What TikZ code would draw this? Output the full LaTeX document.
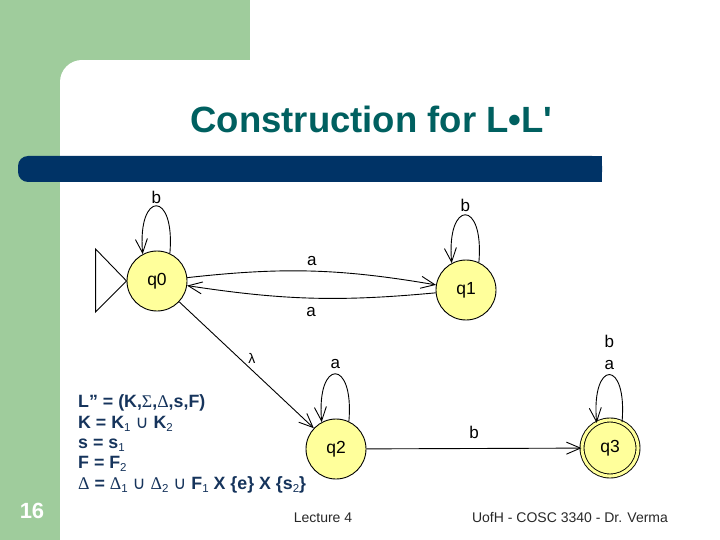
\documentclass[tikz,border=0pt]{standalone}
\usepackage{fontspec}
\setmainfont{Liberation Sans}[Ligatures=TeXOff]
\newfontfamily\dvsfont{DejaVu Sans}
\newfontfamily\lserif{Liberation Serif}
\usetikzlibrary{arrows.meta}
\definecolor{slgreen}{RGB}{159,204,156}
\definecolor{barblue}{RGB}{0,51,102}
\definecolor{titleteal}{RGB}{0,96,96}
\definecolor{txtblue}{RGB}{22,52,92}
\definecolor{stfill}{RGB}{255,255,155}
\definecolor{foot}{RGB}{40,40,40}
\newcommand{\sbs}[1]{\raisebox{-3pt}{\fontsize{11.5}{11.5}\selectfont\mdseries #1}}
\newcommand{\gk}[1]{{\lserif\mdseries #1}}
\newcommand{\uni}{{\dvsfont\mdseries ∪}}
\begin{document}
\begin{tikzpicture}[x=1pt,y=-1pt,
  state/.style={circle, draw=black, line width=0.9pt, fill=stfill, minimum size=60pt, inner sep=0pt, font=\fontsize{17.5}{19}\selectfont},
  trans/.style={line width=0.9pt, -{Straight Barb[length=14pt,width=12pt]}},
  lbl/.style={font=\fontsize{17}{19}\selectfont, inner sep=1.5pt},
  deftext/.style={anchor=base west, text=txtblue, font=\fontsize{17.8}{20}\selectfont\bfseries, inner sep=0pt},
  foottext/.style={text=foot, font=\fontsize{14}{16}\selectfont, inner sep=0pt, anchor=base}]
\useasboundingbox (0,0) rectangle (720,540);
\fill[white] (0,0) rectangle (720,540);
\fill[slgreen] (0,0) rectangle (250,60);
\fill[slgreen] (0,0) rectangle (60,540);
\fill[slgreen] (59,59) rectangle (84,84);
\fill[white] (82,82) circle[radius=22pt];
\fill[white] (82,60) rectangle (720,540);
\fill[white] (60,82) rectangle (720,540);
\fill[barblue, rounded corners=10pt] (18,156) rectangle (602,182);
\fill[barblue] (560,156) rectangle (602,182);

\node[anchor=base, text=titleteal, font=\fontsize{36.5}{40}\selectfont\bfseries, inner sep=0pt] (title) at (371.5,133) {Construction for L•L'};

\node[deftext] (d1) at (78,407) {L” = (K,\gk{Σ},\gk{Δ},s,F)};
\node[deftext] (d2) at (78,428.5) {K = K\sbs{1} \uni{} K\sbs{2}};
\node[deftext] (d3) at (78,448.5) {s = s\sbs{1}};
\node[deftext] (d4) at (78,468.5) {F = F\sbs{2}};
\node[deftext] (d5) at (78,489) {\gk{Δ} = \gk{Δ}\sbs{1} \uni{} \gk{Δ}\sbs{2} \uni{} F\sbs{1} X \{e\} X \{s\sbs{2}\}};

\node[anchor=base, text=white, font=\fontsize{22}{24}\selectfont\bfseries, inner sep=0pt] (pnum) at (32,518) {16};
\node[foottext] (lect) at (323,522) {Lecture 4};
\node[foottext] (auth) at (570,522) {UofH - COSC 3340 - Dr. Verma};

\node[state] (q0) at (157,281) {q0};
\node[state] (q1) at (466,290) {q1};
\node[state] (q2) at (336,449) {q2};
\node[state, minimum size=56pt, double=stfill, double distance=3.1pt] (q3) at (610,448) {q3};

\draw[line width=0.9pt] (q0.west) -- ++(-31,-32) -- ++(0,63) -- cycle;

\draw[trans] (q0.65) .. controls +(-85:64) and +(-95:64) .. (q0.118) node[pos=0.5, above, lbl] (l0) {b};
\draw[trans] (q1.65) .. controls +(-85:64) and +(-95:64) .. (q1.118) node[pos=0.5, above=1pt, lbl] (l1) {b};
\draw[trans] (q2.65) .. controls +(-85:64) and +(-95:64) .. (q2.118) node[pos=0.5, above=3pt, lbl] (l2) {a};
\draw[trans] (q3.65) .. controls +(-85:64) and +(-95:64) .. (q3.118) node[pos=0.5, above=3pt, lbl] (l3a) {a};
\node[lbl, anchor=base] (l3b) at ([yshift=22pt]l3a.base) {b};

\draw[trans] (q0) to[bend left=8] node[lbl, above=3pt] (la1) {a} (q1);
\draw[trans] (q1) to[bend left=7] node[lbl, below=7pt] (la2) {a} (q0);
\draw[trans] (q0) -- node[lbl, pos=0.5, above right, font=\fontsize{14}{16}\selectfont] (llam) {λ} (q2);
\draw[trans] (q2) -- node[lbl, above=8pt] (lb) {b} (q3);
\end{tikzpicture}
\end{document}
